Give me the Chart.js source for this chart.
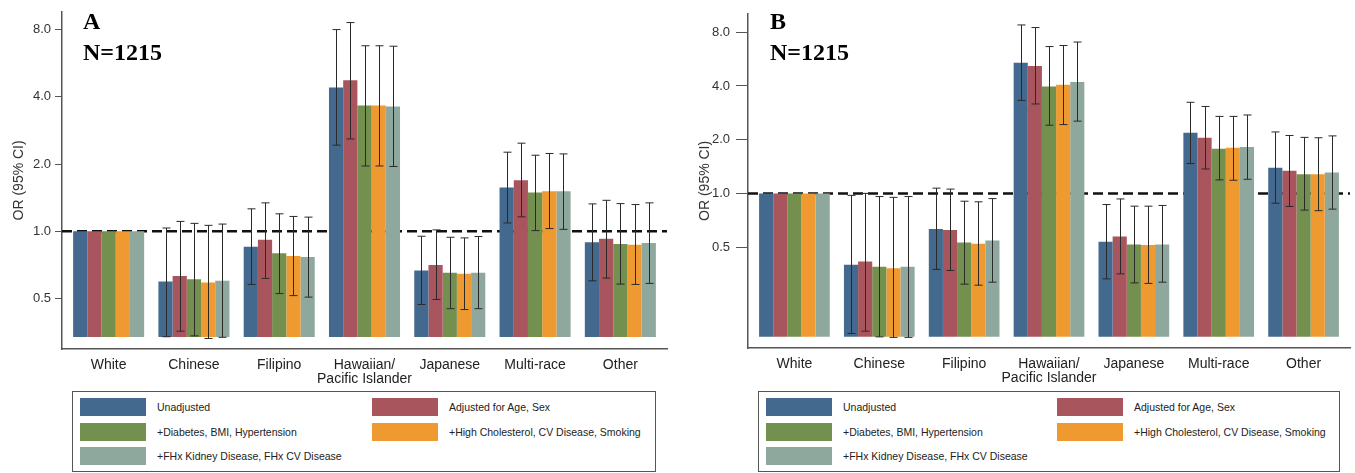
<!DOCTYPE html>
<html><head><meta charset="utf-8">
<script src="https://cdn.jsdelivr.net/npm/chart.js@4.4.1/dist/chart.umd.min.js"></script>
<style>
body{margin:0;background:#fff;font-family:"Liberation Sans",Arial,sans-serif;}
#wrap{position:relative;width:1355px;height:473px;overflow:hidden;}
canvas{position:absolute;top:0;}
.tag{position:absolute;font:bold 24px "Liberation Serif","Times New Roman",serif;line-height:24px;color:#000;}
.leg{position:absolute;top:391px;height:81px;border:1px solid #555;box-sizing:border-box;}
.leg .sw{position:absolute;width:66px;height:18px;}
.leg .tx{position:absolute;font-size:10.5px;line-height:18px;color:#222;white-space:nowrap;}
</style></head>
<body>
<div id="wrap">
  <canvas id="chartA" width="677" height="390" style="left:0"></canvas>
  <canvas id="chartB" width="675" height="390" style="left:680px"></canvas>
  <div class="tag" style="left:83px;top:9px">A</div>
  <div class="tag" style="left:83px;top:40px">N=1215</div>
  <div class="tag" style="left:770px;top:9px">B</div>
  <div class="tag" style="left:770px;top:40px">N=1215</div>
  <div class="leg" id="legA" style="left:72px;width:584px"></div>
  <div class="leg" id="legB" style="left:758px;width:582px"></div>
</div>
<script>
// categories + series
const groups = ['White', 'Chinese', 'Filipino', ['Hawaiian/', 'Pacific Islander'], 'Japanese', 'Multi-race', 'Other'];
const seriesNames = ['Unadjusted', 'Adjusted for Age, Sex', '+Diabetes, BMI, Hypertension',
  '+High Cholesterol, CV Disease, Smoking', '+FHx Kidney Disease, FHx CV Disease'];
const colors = ['#44698f', '#a8555e', '#74904f', '#ef9a31', '#8fa89e'];
const yTicks = [0.5, 1, 2, 4, 8];

// panel A: odds ratios, lower / upper 95% CI
const orA_unadj = [1.00, 0.595, 0.853, 4.40, 0.667, 1.57, 0.894];
const loA_unadj = [null, 0.337, 0.578, 2.43, 0.47, 1.089, 0.60];
const hiA_unadj = [null, 1.034, 1.26, 8.0, 0.95, 2.26, 1.326];
const orA_age = [1.00, 0.63, 0.915, 4.74, 0.707, 1.69, 0.925];
const loA_age = [null, 0.357, 0.615, 2.59, 0.495, 1.16, 0.617];
const hiA_age = [null, 1.107, 1.34, 8.6, 1.014, 2.48, 1.376];
const orA_diab = [1.00, 0.609, 0.797, 3.66, 0.652, 1.49, 0.876];
const loA_diab = [null, 0.34, 0.526, 1.96, 0.45, 1.007, 0.58];
const hiA_diab = [null, 1.085, 1.197, 6.77, 0.94, 2.19, 1.33];
const orA_chol = [1.00, 0.59, 0.775, 3.66, 0.645, 1.51, 0.87];
const loA_chol = [null, 0.331, 0.515, 1.96, 0.446, 1.028, 0.578];
const hiA_chol = [null, 1.063, 1.165, 6.77, 0.934, 2.23, 1.317];
const orA_fhx = [1.00, 0.60, 0.767, 3.62, 0.652, 1.51, 0.885];
const loA_fhx = [null, 0.335, 0.507, 1.95, 0.45, 1.02, 0.584];
const hiA_fhx = [null, 1.077, 1.157, 6.74, 0.947, 2.22, 1.34];

// panel B
const orB_unadj = [1.00, 0.398, 0.631, 5.40, 0.535, 2.19, 1.39];
const loB_unadj = [null, 0.164, 0.375, 3.32, 0.332, 1.47, 0.881];
const hiB_unadj = [null, 0.975, 1.07, 8.79, 0.866, 3.24, 2.21];
const orB_age = [1.00, 0.415, 0.623, 5.18, 0.573, 2.05, 1.34];
const loB_age = [null, 0.169, 0.37, 3.17, 0.354, 1.37, 0.845];
const hiB_age = [null, 1.0, 1.057, 8.5, 0.931, 3.07, 2.11];
const orB_diab = [1.00, 0.388, 0.53, 3.97, 0.517, 1.78, 1.28];
const loB_diab = [null, 0.157, 0.31, 2.41, 0.315, 1.19, 0.806];
const hiB_diab = [null, 0.96, 0.904, 6.65, 0.848, 2.70, 2.06];
const orB_chol = [1.00, 0.381, 0.522, 4.06, 0.513, 1.80, 1.28];
const loB_chol = [null, 0.156, 0.306, 2.43, 0.313, 1.185, 0.80];
const hiB_chol = [null, 0.95, 0.897, 6.74, 0.848, 2.70, 2.05];
const orB_fhx = [1.00, 0.388, 0.544, 4.21, 0.517, 1.82, 1.31];
const loB_fhx = [null, 0.156, 0.318, 2.54, 0.318, 1.20, 0.816];
const hiB_fhx = [null, 0.96, 0.935, 7.05, 0.856, 2.75, 2.10];

const family = '"Liberation Sans", Arial, sans-serif';
const axisCol = '#555';

// dashed line at OR = 1, behind the bars
const refLine = {
  id: 'refLine',
  beforeDatasetsDraw(c) {
    const { ctx, chartArea: a } = c;
    const y = c.scales.y.getPixelForValue(1);
    ctx.save(); ctx.strokeStyle = '#111'; ctx.lineWidth = 2.5; ctx.setLineDash([10, 5]);
    ctx.beginPath(); ctx.moveTo(a.left, y); ctx.lineTo(a.right, y); ctx.stroke(); ctx.restore();
  },
};

// the original leaves a small inset at both ends of the x axis
const xInset = {
  id: 'xInset',
  afterLayout(c) {
    const s = c.scales.x; const d = c.options.plugins.xInset.px;
    s._startPixel += d; s._endPixel -= d; s._length -= 2 * d;
  },
};

// 95% CI whiskers on top of bars
const ciBars = {
  id: 'ciBars',
  afterDatasetsDraw(c) {
    const { ctx } = c; const ys = c.scales.y;
    ctx.save(); ctx.strokeStyle = '#2a2a2a'; ctx.lineWidth = 1;
    c.data.datasets.forEach((ds, di) => {
      c.getDatasetMeta(di).data.forEach((bar, i) => {
        if (ds.lo[i] == null) return;
        const x = Math.round(bar.x) + 0.5, y0 = ys.getPixelForValue(ds.lo[i]), y1 = ys.getPixelForValue(ds.hi[i]);
        ctx.beginPath();
        ctx.moveTo(x, y0); ctx.lineTo(x, y1);
        ctx.moveTo(x - 4, y0); ctx.lineTo(x + 4, y0);
        ctx.moveTo(x - 4, y1); ctx.lineTo(x + 4, y1);
        ctx.stroke();
      });
    });
    ctx.restore();
  },
};

function panel(id, ors, los, his, o) {
  const el = document.getElementById(id);
  return new Chart(el, {
    type: 'bar',
    data: { labels: groups, datasets: ors.map((d, i) => ({
      label: seriesNames[i], data: d, lo: los[i], hi: his[i], base: o.base,
      backgroundColor: colors[i], borderWidth: 0, categoryPercentage: 0.833, barPercentage: 1 })) },
    options: {
      responsive: false, animation: false,
      layout: { padding: { top: 8, right: o.right, left: 0, bottom: 0 } },
      plugins: { legend: { display: false }, tooltip: { enabled: false }, xInset: { px: 4 } },
      scales: {
        x: { grid: { display: false }, border: { color: axisCol, width: 1.5 },
          ticks: { color: '#222', font: { family, size: 14, lineHeight: 1.0 }, padding: 1, maxRotation: 0, autoSkip: false },
          afterFit: (s) => { s.height = o.xh; } },
        y: { type: 'logarithmic', min: o.min, max: o.max,
          grid: { drawOnChartArea: false, drawTicks: true, tickLength: o.tick, color: axisCol },
          border: { color: axisCol, width: 1.5 },
          ticks: { color: '#333', font: { family, size: 13 }, padding: o.tp, autoSkip: false, callback: (v) => Number(v).toFixed(1) },
          afterBuildTicks: (axis) => { axis.ticks = yTicks.map((v) => ({ value: v })); },
          title: { display: true, text: 'OR (95% CI)', color: '#333', font: { family, size: 14 }, padding: { top: o.tpad, bottom: 0 } },
          afterFit: (s) => { s.width = o.yw; } },
      },
    },
    plugins: [refLine, xInset, ciBars],
  });
}

panel('chartA',
  [orA_unadj, orA_age, orA_diab, orA_chol, orA_fhx],
  [loA_unadj, loA_age, loA_diab, loA_chol, loA_fhx],
  [hiA_unadj, hiA_age, hiA_diab, hiA_chol, hiA_fhx],
  { base: 0.336, min: 0.297, max: 9.61, right: 10, xh: 41, yw: 62, tick: 7, tp: 4, tpad: 11 });
panel('chartB',
  [orB_unadj, orB_age, orB_diab, orB_chol, orB_fhx],
  [loB_unadj, loB_age, loB_diab, loB_chol, loB_fhx],
  [hiB_unadj, hiB_age, hiB_diab, hiB_chol, hiB_fhx],
  { base: 0.157, min: 0.136, max: 10.15, right: 5, xh: 42, yw: 68, tick: 12, tp: 6, tpad: 17 });

function legend(id, col2) {
  const box = document.getElementById(id);
  seriesNames.forEach((n, i) => {
    const c = i % 2, r = Math.floor(i / 2);
    const top = 6 + r * 24.5;
    const sw = document.createElement('div'); sw.className = 'sw';
    sw.style.cssText = `left:${7 + c * col2}px;top:${top}px;background:${colors[i]}`;
    const tx = document.createElement('div'); tx.className = 'tx'; tx.textContent = n;
    tx.style.cssText = `left:${84 + c * col2}px;top:${top}px`;
    box.append(sw, tx);
  });
}
legend('legA', 292);
legend('legB', 291);
</script>
</body></html>
